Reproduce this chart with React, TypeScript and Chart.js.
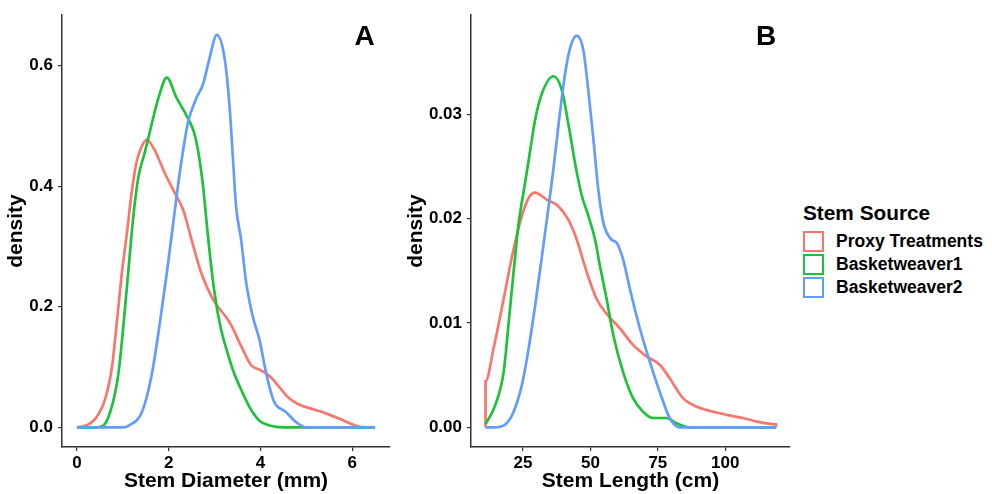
import React, { useEffect, useRef } from "react";
import { Chart, registerables } from "chart.js";

Chart.register(...registerables);

const FONT = "'Liberation Sans', Arial, Helvetica, sans-serif";

const SERIES_NAMES = ["Proxy Treatments", "Basketweaver1", "Basketweaver2"];
const SERIES_COLORS = ["#F8766D", "#1DC23A", "#619CFF"];
const LEGEND_TITLE = "Stem Source";

// ---------- Panel A: Stem Diameter (mm) ----------
const A_PROXY_X = [0, 0.2, 0.41, 0.62, 0.77, 0.87, 0.98, 1.09, 1.2, 1.31, 1.42, 1.52, 1.7, 1.92, 2.14, 2.32, 2.5, 2.71, 2.97, 3.33, 3.61, 3.8, 4.0, 4.2, 4.4, 4.6, 4.84, 5.1, 5.4, 5.7, 6.0, 6.2, 6.5];
const A_PROXY_Y = [0, 0.003, 0.015, 0.048, 0.103, 0.174, 0.256, 0.322, 0.393, 0.443, 0.467, 0.477, 0.459, 0.421, 0.388, 0.36, 0.311, 0.256, 0.212, 0.174, 0.13, 0.103, 0.095, 0.085, 0.068, 0.05, 0.038, 0.031, 0.024, 0.015, 0.005, 0.0005, 0];

const A_BW1_X = [0, 0.45, 0.58, 0.77, 0.91, 1.02, 1.13, 1.23, 1.34, 1.49, 1.63, 1.78, 1.96, 2.17, 2.39, 2.55, 2.65, 2.75, 2.84, 2.97, 3.11, 3.33, 3.45, 3.56, 3.76, 3.98, 4.2, 4.5, 6.5];
const A_BW1_Y = [0, 0, 0.003, 0.037, 0.092, 0.174, 0.267, 0.35, 0.415, 0.459, 0.503, 0.547, 0.58, 0.547, 0.517, 0.49, 0.455, 0.4, 0.33, 0.24, 0.174, 0.112, 0.085, 0.066, 0.034, 0.011, 0.003, 0, 0];

const A_BW2_X = [0, 1.0, 1.13, 1.42, 1.63, 1.81, 1.96, 2.1, 2.24, 2.42, 2.61, 2.75, 2.89, 3.05, 3.22, 3.33, 3.4, 3.47, 3.58, 3.69, 3.83, 3.98, 4.12, 4.26, 4.34, 4.55, 4.77, 5.0, 6.5];
const A_BW2_Y = [0, 0, 0.003, 0.026, 0.087, 0.174, 0.256, 0.339, 0.421, 0.505, 0.547, 0.569, 0.612, 0.651, 0.612, 0.53, 0.448, 0.366, 0.311, 0.24, 0.185, 0.145, 0.092, 0.05, 0.037, 0.026, 0.009, 0, 0];

const A_X_RANGE = [-0.325, 6.825];
const A_Y_RANGE = [-0.0326, 0.6836];
const A_X_TICKS = [0, 2, 4, 6];
const A_X_TICK_LABELS = ["0", "2", "4", "6"];
const A_Y_TICKS = [0, 0.2, 0.4, 0.6];
const A_Y_TICK_LABELS = ["0.0", "0.2", "0.4", "0.6"];
const A_X_TITLE = "Stem Diameter (mm)";
const A_LABEL = "A";

// ---------- Panel B: Stem Length (cm) ----------
const B_PROXY_X = [11.1, 11.1, 14.1, 17.8, 21.5, 24.6, 27.1, 29.5, 33.9, 38.1, 41.8, 44.9, 48.6, 52.3, 56.6, 60.9, 65.8, 70.8, 75.7, 79.4, 84.3, 89.3, 97.9, 106.5, 112.6, 118.8, 118.8];
const B_PROXY_Y = [0, 0.0044, 0.0076, 0.0123, 0.0171, 0.0203, 0.022, 0.0225, 0.0218, 0.0212, 0.0199, 0.018, 0.0149, 0.0123, 0.0107, 0.0095, 0.0079, 0.0068, 0.006, 0.0047, 0.0028, 0.002, 0.00136, 0.0009, 0.0005, 0.0003, 0];

const B_BW1_X = [11.1, 14.8, 17.8, 19.7, 21.5, 23.4, 25.8, 27.7, 29.5, 32.0, 36.3, 39.4, 41.8, 44.3, 46.8, 49.2, 51.7, 53.5, 56.0, 58.5, 62.1, 65.8, 69.5, 73.2, 78.2, 81.9, 86.8, 118.8];
const B_BW1_Y = [0.0003, 0.0022, 0.0053, 0.0101, 0.0149, 0.0196, 0.0235, 0.0266, 0.0295, 0.032, 0.03365, 0.0323, 0.0291, 0.0253, 0.0222, 0.0203, 0.018, 0.0155, 0.0123, 0.0088, 0.0053, 0.0028, 0.0015, 0.0009, 0.0009, 0.0004, 0, 0];

const B_BW2_X = [11.1, 14.2, 18.5, 21.5, 24.6, 27.1, 29.5, 32.0, 34.5, 36.1, 38.2, 40.6, 42.5, 44.9, 47.4, 49.2, 51.1, 52.9, 54.8, 57.8, 59.7, 62.1, 64.6, 68.3, 72.0, 75.7, 79.4, 83.1, 118.8];
const B_BW2_Y = [0, 0, 0.0003, 0.0015, 0.0041, 0.0076, 0.0117, 0.0164, 0.0212, 0.0244, 0.0291, 0.0339, 0.0364, 0.03755, 0.0361, 0.0323, 0.0276, 0.0228, 0.0196, 0.018, 0.0177, 0.0161, 0.0133, 0.0095, 0.0063, 0.0034, 0.0009, 0, 0];

const B_X_RANGE = [5.7, 124.0];
const B_Y_RANGE = [-0.00188, 0.0395];
const B_X_TICKS = [25, 50, 75, 100];
const B_X_TICK_LABELS = ["25", "50", "75", "100"];
const B_Y_TICKS = [0, 0.01, 0.02, 0.03];
const B_Y_TICK_LABELS = ["0.00", "0.01", "0.02", "0.03"];
const B_X_TITLE = "Stem Length (cm)";
const B_LABEL = "B";

const Y_TITLE = "density";

const panelLabelPlugin = {
  id: "panelLabel",
  afterDraw(chart: any, _args: any, opts: any) {
    const { ctx, chartArea } = chart;
    ctx.save();
    ctx.font = `bold 28px ${FONT}`;
    ctx.fillStyle = "#000";
    ctx.textAlign = "center";
    ctx.textBaseline = "middle";
    ctx.fillText(opts.text, chartArea.right - opts.dx, chartArea.top + opts.dy);
    ctx.restore();
  },
};

function makeDatasets(xs: number[][], ys: number[][]) {
  return xs.map((xArr, s) => ({
    label: SERIES_NAMES[s],
    data: xArr.map((x, i) => ({ x, y: ys[s][i] })),
    borderColor: SERIES_COLORS[s],
    backgroundColor: SERIES_COLORS[s],
    borderWidth: 2.7,
    pointRadius: 0,
    fill: false,
    cubicInterpolationMode: "monotone",
    order: 2 - s,
  }));
}

function makeConfig(p: any) {
  const tickFont = { family: FONT, size: 17, weight: "bold" };
  const titleFont = { family: FONT, size: 21, weight: "bold" };
  return {
    type: "line",
    data: { datasets: makeDatasets(p.xs, p.ys) },
    plugins: [panelLabelPlugin],
    options: {
      animation: false,
      responsive: false,
      maintainAspectRatio: false,
      events: [],
      layout: { padding: { top: 10, right: 10, left: 0, bottom: 0 } },
      plugins: {
        legend: { display: false },
        tooltip: { enabled: false },
        panelLabel: { text: p.label, dx: p.labelDx, dy: 22 },
      },
      scales: {
        x: {
          type: "linear",
          min: p.xRange[0],
          max: p.xRange[1],
          afterBuildTicks: (scale: any) => {
            scale.ticks = p.xTicks.map((v: number) => ({ value: v }));
          },
          afterFit: (scale: any) => {
            scale.height = 47;
          },
          ticks: {
            color: "#000",
            font: tickFont,
            padding: 2,
            maxRotation: 0,
            autoSkip: false,
            callback: (_v: any, i: number) => p.xTickLabels[i],
          },
          grid: { drawOnChartArea: false, drawTicks: true, tickLength: 4, color: "#333", lineWidth: 1.2 },
          border: { display: true, color: "#333", width: 1.5 },
          title: { display: true, text: p.xTitle, color: "#000", font: titleFont, padding: { top: 0, bottom: 0 } },
        },
        y: {
          type: "linear",
          min: p.yRange[0],
          max: p.yRange[1],
          afterBuildTicks: (scale: any) => {
            scale.ticks = p.yTicks.map((v: number) => ({ value: v }));
          },
          afterFit: (scale: any) => {
            scale.width = p.yWidth;
          },
          ticks: {
            color: "#000",
            font: tickFont,
            padding: 5,
            autoSkip: false,
            callback: (_v: any, i: number) => p.yTickLabels[i],
          },
          grid: { drawOnChartArea: false, drawTicks: true, tickLength: 4, color: "#333", lineWidth: 1.2 },
          border: { display: true, color: "#333", width: 1.5 },
          title: { display: true, text: Y_TITLE, color: "#000", font: titleFont, padding: { top: 4, bottom: 0 } },
        },
      },
    },
  };
}

function Panel({ config, left, width }: { config: any; left: number; width: number }) {
  const ref = useRef<HTMLCanvasElement>(null);
  useEffect(() => {
    const chart = new Chart(ref.current as HTMLCanvasElement, config);
    return () => chart.destroy();
  }, []);
  return (
    <canvas
      ref={ref}
      width={width}
      height={494}
      style={{ position: "absolute", left, top: 0, width, height: 494 }}
    />
  );
}

const configA = makeConfig({
  xs: [A_PROXY_X, A_BW1_X, A_BW2_X],
  ys: [A_PROXY_Y, A_BW1_Y, A_BW2_Y],
  xRange: A_X_RANGE,
  yRange: A_Y_RANGE,
  xTicks: A_X_TICKS,
  xTickLabels: A_X_TICK_LABELS,
  yTicks: A_Y_TICKS,
  yTickLabels: A_Y_TICK_LABELS,
  xTitle: A_X_TITLE,
  label: A_LABEL,
  labelDx: 25.5,
  yWidth: 62,
});

const configB = makeConfig({
  xs: [B_PROXY_X, B_BW1_X, B_BW2_X],
  ys: [B_PROXY_Y, B_BW1_Y, B_BW2_Y],
  xRange: B_X_RANGE,
  yRange: B_Y_RANGE,
  xTicks: B_X_TICKS,
  xTickLabels: B_X_TICK_LABELS,
  yTicks: B_Y_TICKS,
  yTickLabels: B_Y_TICK_LABELS,
  xTitle: B_X_TITLE,
  label: B_LABEL,
  labelDx: 24,
  yWidth: 71,
});

export default function App() {
  return (
    <div
      style={{
        position: "absolute",
        left: 0,
        top: 0,
        width: 992,
        height: 494,
        background: "#fff",
        overflow: "hidden",
        fontFamily: FONT,
      }}
    >
      <Panel config={configA} left={0} width={400} />
      <Panel config={configB} left={400} width={400} />
      <div
        style={{
          position: "absolute",
          left: 803,
          top: 200,
          height: 25,
          lineHeight: "25px",
          fontSize: 20.8,
          fontWeight: "bold",
          color: "#000",
          whiteSpace: "nowrap",
        }}
      >
        {LEGEND_TITLE}
      </div>
      {SERIES_NAMES.map((name, i) => (
        <div
          key={name}
          style={{
            position: "absolute",
            left: 803,
            top: 231 + i * 23,
            height: 21,
            display: "flex",
            alignItems: "center",
            whiteSpace: "nowrap",
          }}
        >
          <div
            style={{
              width: 21,
              height: 21,
              boxSizing: "border-box",
              border: `2.5px solid ${SERIES_COLORS[i]}`,
              background: "#fff",
            }}
          />
          <span style={{ marginLeft: 12, fontSize: 17.5, fontWeight: "bold", color: "#000", lineHeight: "21px" }}>
            {name}
          </span>
        </div>
      ))}
    </div>
  );
}
